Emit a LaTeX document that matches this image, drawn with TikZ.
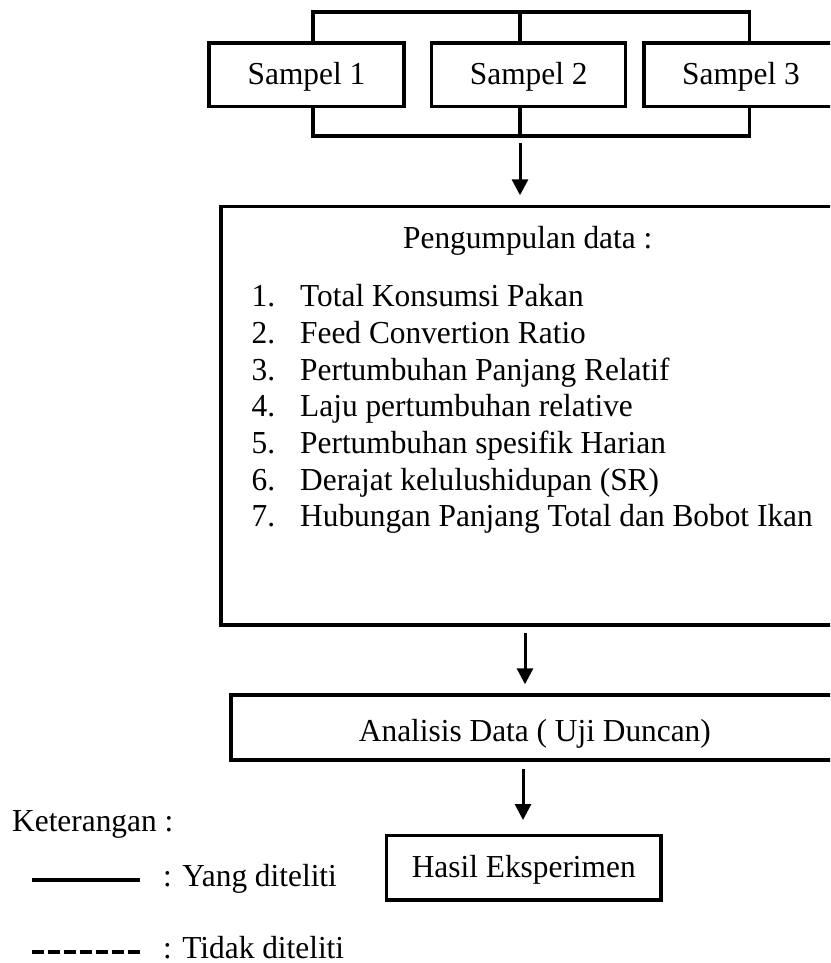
\documentclass[tikz,border=0pt]{standalone}
\usepackage{fontspec}
\setmainfont{Liberation Serif}[FakeStretch=0.98]
\usetikzlibrary{arrows.meta,calc}
\begin{document}
\begin{tikzpicture}[x=1pt,y=-1pt,
  box/.style={draw,line width=3.4pt,inner sep=0pt,anchor=base,font=\fontsize{32}{36}\selectfont},
  txt/.style={inner sep=0pt,anchor=base west,font=\fontsize{32}{36}\selectfont},
  wire/.style={line width=3.4pt},
  arr/.style={line width=3pt,-{Triangle[length=16pt,width=16pt]}},
  solidleg/.style={line width=4pt},
  dashleg/.style={line width=4pt,dash pattern=on 11.8pt off 4.2pt}]
\useasboundingbox (0,0) rectangle (830,963);
\clip (0,0) rectangle (830,963);
% sample boxes
\node[box,minimum width=195pt,text height=42pt,text depth=21.5pt] (s1) at (306.5,85) {Sampel 1};
\node[box,minimum width=194pt,text height=42pt,text depth=21.5pt] (s2) at (528.7,85) {Sampel 2};
\node[box,minimum width=194pt,text height=42pt,text depth=21.5pt] (s3) at (741,85) {Sampel 3};
% brackets
\coordinate (tl) at (313,12);
\coordinate (tm) at (520,12);
\coordinate (tr) at (749.3,12);
\coordinate (bl) at (313,136);
\coordinate (bm) at (520,136);
\coordinate (br) at (749.3,136);
\draw[wire] (tl |- s1.north) -- (tl) -- (tr) -- (tr |- s3.north);
\draw[wire] (tm) -- (tm |- s2.north);
\draw[wire] (bl |- s1.south) -- (bl) -- (br) -- (br |- s3.south);
\draw[wire] (bm |- s2.south) -- (bm);
% big box
\node[draw,line width=3.4pt,inner sep=0pt,minimum width=617pt,minimum height=418.3pt] (big) at (529.5,415.85) {};
\coordinate (a1) at (520,143);
\draw[arr] (a1) -- ($(a1 |- big.north)+(0,-9.7)$);
\node[txt] (title) at (403,248.3) {Pengumpulan data :};
\foreach \i/\t in {1/Total Konsumsi Pakan,2/Feed Convertion Ratio,3/Pertumbuhan Panjang Relatif,4/Laju pertumbuhan relative,5/Pertumbuhan spesifik Harian,6/Derajat kelulushidupan (SR),7/Hubungan Panjang Total dan Bobot Ikan}{
  \node[txt] (n\i) at (251.5,{306.7+36.67*(\i-1)}) {\i.};
  \node[txt] (it\i) at (300,{306.7+36.67*(\i-1)}) {\t};
}
% analysis
\node[box,minimum width=608pt,text height=46.7pt,text depth=18.3pt] (ana) at (534.9,741.7) {Analisis Data ( Uji Duncan)};
\coordinate (a2) at (525,633);
\draw[arr] (a2) -- ($(a2 |- ana.north)+(0,-9)$);
% result
\node[box,minimum width=274.5pt,text height=41.5pt,text depth=23pt] (res) at (523.75,877) {Hasil Eksperimen};
\coordinate (a3) at (523,769);
\draw[arr] (a3) -- ($(a3 |- res.north)+(0,-13.8)$);
% legend
\node[txt] (ket) at (12,831.7) {Keterangan :};
\coordinate (l1a) at (31.7,880);
\coordinate (l1b) at (140,880);
\draw[solidleg] (l1a) -- (l1b);
\node[txt] (leg1) at (163,886.7) {: Yang diteliti};
\coordinate (l2a) at (31.7,951.7);
\coordinate (l2b) at (140,951.7);
\draw[dashleg] (l2a) -- (l2b);
\node[txt] (leg2) at (163,958) {: Tidak diteliti};
\end{tikzpicture}
\end{document}
